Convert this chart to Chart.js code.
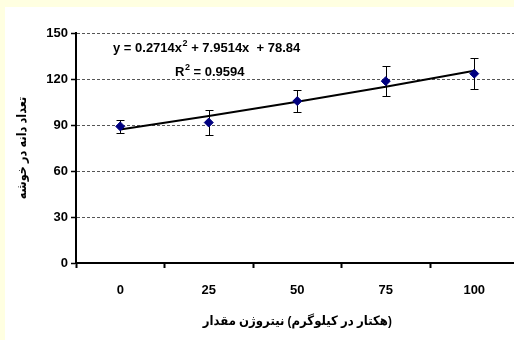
<!DOCTYPE html>
<html>
<head>
<meta charset="utf-8">
<script src="https://cdn.jsdelivr.net/npm/chart.js@4/dist/chart.umd.min.js"></script>
<style>
  html, body { margin: 0; padding: 0; width: 514px; height: 340px; overflow: hidden; background: #FFFFE1; }
  #panel { position: absolute; left: 5px; top: 7px; width: 545px; height: 333px; background: #ffffff; }
  canvas { display: block; }
</style>
</head>
<body>
<div id="panel"><canvas id="chart" width="545" height="333"></canvas></div>
<script>
// Nitrogen rate (kg/ha) categories and grains per spike
const nitrogenRates = ['0', '25', '50', '75', '100'];
const grainsPerSpike = [89.1, 91.6, 105.6, 118.6, 123.5];
const errorMargins = [4, 8, 7, 10, 10];
// Quadratic trend line evaluated at each category
const trendValues = [87.1, 95.8, 105.1, 115.0, 125.4];
const yTicks = [0, 30, 60, 90, 120, 150];

const equationParts = ['y = 0.2714x', '2', ' + 7.9514x  + 78.84'];
const rSquaredParts = ['R', '2', ' = 0.9594'];
// title words in left-to-right drawing order
const xTitleWords = ['مقدار', 'نیتروژن', '(کیلوگرم', 'در', 'هکتار)'];
const yTitleWords = ['خوشه', 'در', 'دانه', 'تعداد'];

const FONT = "'Liberation Sans', 'DejaVu Sans', Arial, sans-serif";
Chart.defaults.font.family = FONT;
Chart.defaults.color = '#000';

// error bars drawn just before the marker dataset
const errorBars = {
  id: 'errorBars',
  beforeDatasetDraw(chart, args) {
    if (args.index !== 0) return;
    const meta = chart.getDatasetMeta(0);
    const y = chart.scales.y;
    const ctx = chart.ctx;
    ctx.save();
    ctx.strokeStyle = '#000';
    ctx.lineWidth = 1;
    meta.data.forEach((pt, i) => {
      const v = grainsPerSpike[i], e = errorMargins[i];
      const top = Math.round(y.getPixelForValue(v + e)) + 0.5;
      const bot = Math.round(y.getPixelForValue(v - e)) + 0.5;
      const x = Math.round(pt.x) + 0.5;
      ctx.beginPath();
      ctx.moveTo(x, top); ctx.lineTo(x, bot);
      ctx.moveTo(x - 4, top); ctx.lineTo(x + 4, top);
      ctx.moveTo(x - 4, bot); ctx.lineTo(x + 4, bot);
      ctx.stroke();
    });
    ctx.restore();
  }
};

// trend line equation and R² with superscripts
function drawWithSup(ctx, parts, x, y) {
  ctx.font = 'bold 13px ' + FONT;
  ctx.fillText(parts[0], x, y);
  x += ctx.measureText(parts[0]).width;
  ctx.font = 'bold 9px ' + FONT;
  ctx.fillText(parts[1], x + 0.5, y - 6);
  x += ctx.measureText(parts[1]).width + 0.5;
  ctx.font = 'bold 13px ' + FONT;
  ctx.fillText(parts[2], x, y);
}
const equationLabel = {
  id: 'equationLabel',
  afterDraw(chart) {
    const { ctx, chartArea } = chart;
    ctx.save();
    ctx.fillStyle = '#000';
    ctx.textBaseline = 'alphabetic';
    ctx.textAlign = 'left';
    drawWithSup(ctx, equationParts, chartArea.left + 37, chartArea.top + 19);
    drawWithSup(ctx, rSquaredParts, chartArea.left + 99, chartArea.top + 43);
    ctx.restore();
  }
};

// one row of words, centred on the current origin, slightly condensed
function drawWordRow(ctx, words, sx) {
  const space = ctx.measureText(' ').width;
  const widths = words.map(w => ctx.measureText(w).width);
  const total = widths.reduce((a, b) => a + b, 0) + space * (words.length - 1);
  ctx.scale(sx, 1);
  let x = -total / 2;
  words.forEach((w, i) => {
    ctx.fillText(w, x, 0);
    x += widths[i] + space;
  });
}

const axisTitles = {
  id: 'axisTitles',
  afterDraw(chart) {
    const { ctx, chartArea } = chart;
    ctx.save();
    ctx.fillStyle = '#000';
    ctx.font = 'bold 13px ' + FONT;
    ctx.direction = 'ltr';
    ctx.textBaseline = 'middle';
    ctx.textAlign = 'left';

    ctx.save();
    ctx.translate((chartArea.left + chartArea.right) / 2, chartArea.bottom + 58);
    drawWordRow(ctx, xTitleWords, 0.9);
    ctx.restore();

    ctx.save();
    ctx.translate(17, (chartArea.top + chartArea.bottom) / 2);
    ctx.rotate(-Math.PI / 2);
    drawWordRow(ctx, yTitleWords, 0.87);
    ctx.restore();

    ctx.restore();
  }
};

new Chart(document.getElementById('chart'), {
  type: 'line',
  data: {
    labels: nitrogenRates,
    datasets: [
      {
        data: grainsPerSpike,
        showLine: false,
        pointStyle: 'rectRot',
        pointRadius: 4.5,
        pointBackgroundColor: '#000080',
        pointBorderColor: '#000080',
        pointBorderWidth: 1
      },
      {
        data: trendValues,
        borderColor: '#000',
        borderWidth: 2,
        pointRadius: 0,
        tension: 0,
        fill: false
      }
    ]
  },
  options: {
    responsive: false,
    devicePixelRatio: 1,
    animation: false,
    layout: { padding: { left: 0, right: 31.5, top: 26, bottom: 0 } },
    plugins: { legend: { display: false }, tooltip: { enabled: false } },
    scales: {
      x: {
        type: 'category',
        offset: true,
        grid: { offset: true, drawOnChartArea: false, tickLength: 5, tickColor: '#000', tickWidth: 2 },
        border: { color: '#000', width: 2 },
        ticks: { font: { size: 13, weight: 'bold' }, padding: 15, maxRotation: 0 },
        afterFit(s) { s.height = 77; }
      },
      y: {
        min: 0,
        max: 150,
        afterBuildTicks(s) { s.ticks = yTicks.map(v => ({ value: v })); },
        grid: { color: '#555', lineWidth: 1, tickLength: 5, tickColor: '#000', tickWidth: 1.5 },
        border: { color: '#000', width: 2, dash: [3, 2] },
        ticks: { font: { size: 13, weight: 'bold' }, padding: 3 },
        afterFit(s) { s.width = 71; }
      }
    }
  },
  plugins: [errorBars, equationLabel, axisTitles]
});
</script>
</body>
</html>
